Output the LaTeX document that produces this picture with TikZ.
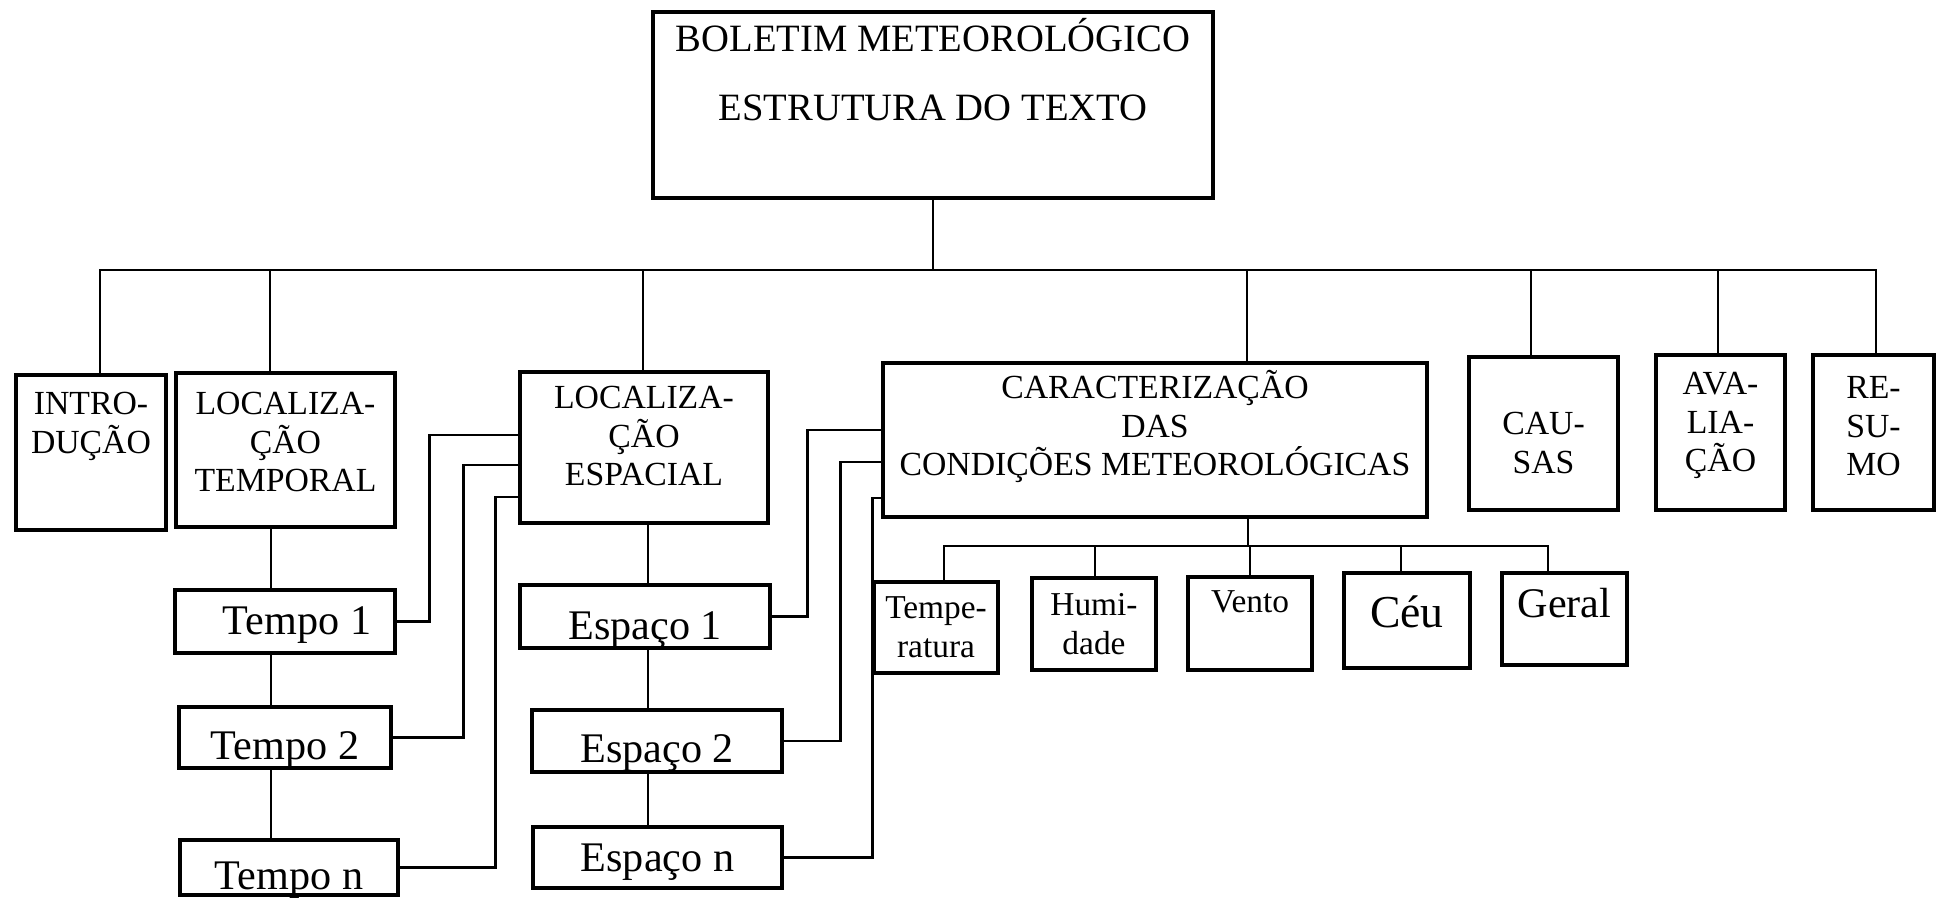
\documentclass[tikz,border=0pt]{standalone}
\usepackage{fontspec}
\setmainfont{Liberation Serif}
\usetikzlibrary{positioning}

\begin{document}
\begin{tikzpicture}[x=0.1mm, y=-0.1mm, line width=0.8pt,
  box/.style={draw, line width=1.2pt, inner sep=0pt},
  hd/.style={font=\fontsize{9.6}{11}\selectfont, align=center, inner sep=0pt},
  tt/.style={font=\fontsize{11}{19.6}\selectfont, align=center, inner sep=0pt},
  lo/.style={box, font=\fontsize{12}{14}\selectfont},
  sm/.style={box, font=\fontsize{9.5}{11}\selectfont, align=center, minimum width=12.4mm}]
\useasboundingbox (0,0) rectangle (1938,898);

\node[box, minimum width=56mm, minimum height=18.6mm] (title) at (933,105) {};
\node[tt, below=0.7mm of title.north] (title-t) {BOLETIM METEOROLÓGICO\\ESTRUTURA DO TEXTO};

\node[box, minimum width=15mm, minimum height=15.5mm] (intro) at (91,452.5) {};
\node[hd, below=1.8mm of intro.north] (intro-t) {INTRO-\\DUÇÃO};
\node[box, minimum width=21.9mm, minimum height=15.4mm] (temporal) at (285.5,450) {};
\node[hd, below=2mm of temporal.north] (temporal-t) {LOCALIZA-\\ÇÃO\\TEMPORAL};
\node[box, minimum width=24.8mm, minimum height=15.1mm] (espacial) at (644,447.5) {};
\node[hd, below=1.5mm of espacial.north] (espacial-t) {LOCALIZA-\\ÇÃO\\ESPACIAL};
\node[box, minimum width=54.4mm, minimum height=15.4mm] (caract) at (1155,440) {};
\node[hd, below=0.8mm of caract.north] (caract-t) {CARACTERIZAÇÃO\\DAS\\CONDIÇÕES METEOROLÓGICAS};
\node[box, minimum width=14.9mm, minimum height=15.3mm] (causas) at (1543.5,433.5) {};
\node[hd, below=5.6mm of causas.north] (causas-t) {CAU-\\SAS};
\node[box, minimum width=12.9mm, minimum height=15.5mm] (aval) at (1720.5,432.5) {};
\node[hd, below=1.8mm of aval.north] (aval-t) {AVA-\\LIA-\\ÇÃO};
\node[box, minimum width=12.1mm, minimum height=15.5mm] (resumo) at (1873.5,432.5) {};
\node[hd, below=2.2mm of resumo.north] (resumo-t) {RE-\\SU-\\MO};

\node[lo, minimum width=22mm, text height=4.5mm, text depth=1.8mm] (tempo1) at (285,621.5) {\hspace*{2.4mm}Tempo 1};
\node[lo, minimum width=21.2mm, text height=5.3mm, text depth=0.8mm] (tempo2) at (285,737.5) {Tempo 2};
\node[lo, minimum width=21.8mm, text height=5mm, text depth=0.5mm] (tempon) at (289,867.5) {Tempo n};
\node[lo, minimum width=25mm, text height=5.5mm, text depth=0.8mm] (esp1) at (645,616.5) {Espaço 1};
\node[lo, minimum width=25mm, text height=5.3mm, text depth=0.9mm] (esp2) at (657,741) {Espaço 2};
\node[lo, minimum width=24.9mm, text height=4.5mm, text depth=1.6mm] (espn) at (657.5,857.5) {Espaço n};

\node[sm, minimum height=9.1mm] (temp) at (936,627.5) {Tempe-\\ratura};
\node[sm, minimum height=9.2mm] (humid) at (1094,624) {Humi-\\dade};
\node[sm, text height=3.6mm, text depth=5.7mm] (vento) at (1250,623.5) {Vento};
\node[sm, minimum width=12.6mm, font=\fontsize{13}{15}\selectfont, text height=5.5mm, text depth=4mm] (ceu) at (1407,620.5) {Céu};
\node[sm, minimum width=12.5mm, font=\fontsize{12}{14}\selectfont, text height=4.5mm, text depth=4.7mm] (geral) at (1564.5,619) {Geral};

\foreach \n/\x in {intro/100,temporal/270,espacial/643,caract/1247,causas/1531,aval/1718,resumo/1876}
  \draw (title.south) |- (\x,270) -- (\n.north -| \x,0);

\coordinate (tx) at (271,0);
\coordinate (ex) at (648,0);
\foreach \a/\b in {temporal/tempo1,tempo1/tempo2,tempo2/tempon}
  \draw (\a.south -| tx) -- (\b.north -| tx);
\foreach \a/\b in {espacial/esp1,esp1/esp2,esp2/espn}
  \draw (\a.south -| ex) -- (\b.north -| ex);

\draw (tempo1.east) -- ++(32,0) |- ([yshift=1.25mm]espacial.west);
\draw (tempo2.east) -- ++(70,0) |- ([yshift=-1.75mm]espacial.west);
\draw (tempon.east) -- ++(95,0) |- ([yshift=-4.95mm]espacial.west);
\draw (esp1.east) -- ++(35,0) |- ([yshift=1mm]caract.west);
\draw (esp2.east) -- ++(56,0) |- ([yshift=-2.2mm]caract.west);
\draw (espn.east) -- ++(88,0) |- ([yshift=-5.8mm]caract.west);

\foreach \n/\x in {temp/944,humid/1095,vento/1250,ceu/1401,geral/1548}
  \draw (caract.south -| 1248,0) |- (\x,546) -- (\n.north -| \x,0);
\end{tikzpicture}
\end{document}
